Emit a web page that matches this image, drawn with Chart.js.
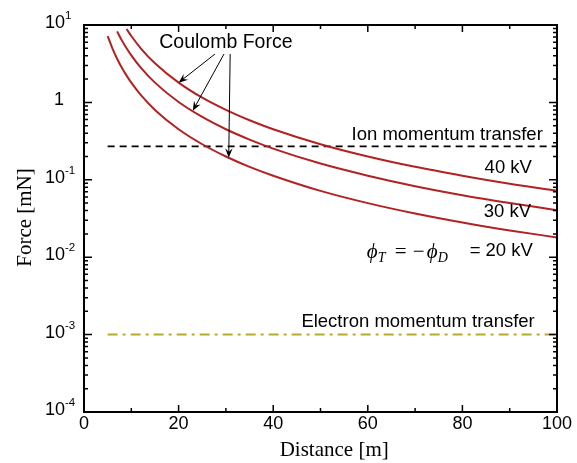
<!DOCTYPE html>
<html>
<head>
<meta charset="utf-8">
<script src="https://cdn.jsdelivr.net/npm/chart.js@4/dist/chart.umd.min.js"></script>
<style>
html,body{margin:0;padding:0;background:#fff;}
#wrap{width:577px;height:463px;position:relative;}
</style>
</head>
<body>
<div id="wrap"><canvas id="c" width="577" height="463"></canvas></div>
<script>
// ---- data ----
const distance20 = [5,6,7,8,9,10,12,15,20,25,30,35,40,50,60,70,80,90,100];
const force20    = [7.2,5.0,3.67,2.81,2.22,1.8,1.25,0.8,0.45,0.288,0.2,0.147,0.113,0.072,0.05,0.0367,0.0281,0.0222,0.018];
const distance30 = [7,8,9,10,12,15,20,25,30,35,40,50,60,70,80,90,100];
const force30    = [8.27,6.33,5.0,4.05,2.81,1.8,1.01,0.648,0.45,0.331,0.253,0.162,0.113,0.0827,0.0633,0.05,0.0405];
const distance40 = [9,10,12,15,20,25,30,35,40,50,60,70,80,90,100];
const force40    = [8.89,7.2,5.0,3.2,1.8,1.15,0.8,0.588,0.45,0.288,0.2,0.147,0.113,0.0889,0.072];
const ionRange   = [5,100];
const ionForce   = 0.27;
const electronRange = [5,100];
const electronForce = 0.001;
const xTickLabels = [0,20,40,60,80,100];
const xMinorTicks = [10,30,50,70,90];
const yTickExponents = [-4,-3,-2,-1,0,1];
const voltageLabels = ['40 kV','30 kV','= 20 kV'];

const toPts = (xs, ys) => xs.map((v,i)=>({x:v,y:ys[i]}));
const red = '#b22222';
const olive = '#b5ac2c';
const sans = "'Liberation Sans', Arial, sans-serif";
const serif = "'Liberation Serif', 'Times New Roman', serif";

const decor = {
  id:'decor',
  afterDraw(chart){
    const {ctx, chartArea:a, scales:{x,y}} = chart;
    ctx.save();
    // ticks
    ctx.strokeStyle='#000';
    ctx.lineWidth=1.5;
    const vt=(px,len)=>{ctx.beginPath();ctx.moveTo(px,a.bottom);ctx.lineTo(px,a.bottom-len);ctx.moveTo(px,a.top);ctx.lineTo(px,a.top+len);ctx.stroke();};
    const ht=(py,len)=>{ctx.beginPath();ctx.moveTo(a.left,py);ctx.lineTo(a.left+len,py);ctx.moveTo(a.right,py);ctx.lineTo(a.right-len,py);ctx.stroke();};
    xTickLabels.forEach(v=>vt(x.getPixelForValue(v),7));
    xMinorTicks.forEach(v=>vt(x.getPixelForValue(v),4));
    yTickExponents.forEach(e=>{
      ht(y.getPixelForValue(Math.pow(10,e)),8);
      if(e<1){for(let m=2;m<=9;m++) ht(y.getPixelForValue(m*Math.pow(10,e)),4);}
    });
    // frame
    ctx.lineWidth=2;
    ctx.strokeRect(a.left,a.top,a.right-a.left,a.bottom-a.top);
    // x tick labels
    ctx.fillStyle='#000';
    ctx.font='18px '+sans;
    ctx.textAlign='center'; ctx.textBaseline='middle';
    xTickLabels.forEach(v=>ctx.fillText(String(v), x.getPixelForValue(v), a.bottom+12));
    // y tick labels
    yTickExponents.forEach(e=>{
      const py=y.getPixelForValue(Math.pow(10,e));
      ctx.textBaseline='middle';
      ctx.font='18px '+sans;
      ctx.textAlign='right';
      if(e===0){ctx.fillText('1',a.left-20,py-2);return;}
      ctx.fillText('10',a.left-19,py-2);
      ctx.font='11.5px '+sans;
      ctx.textAlign='left';
      ctx.fillText(e<0?('-'+(-e)):String(e),a.left-19,py-9);
    });
    // axis titles
    ctx.font='21px '+serif;
    ctx.textAlign='center'; ctx.textBaseline='middle';
    ctx.fillText('Distance [m]', x.getPixelForValue(52.9), 450);
    ctx.save();
    ctx.translate(25,(a.top+a.bottom)/2-1);
    ctx.rotate(-Math.PI/2);
    ctx.fillText('Force [mN]',0,0);
    ctx.restore();

    // annotations
    ctx.font='19.5px '+sans;
    ctx.textAlign='center';
    ctx.fillText('Coulomb Force', x.getPixelForValue(30.0), y.getPixelForValue(6.0));
    ctx.font='18.5px '+sans;
    ctx.textAlign='right';
    ctx.fillText('Ion momentum transfer', x.getPixelForValue(97.0), y.getPixelForValue(0.381));
    ctx.fillText(voltageLabels[0], x.getPixelForValue(94.7), y.getPixelForValue(0.143));
    ctx.fillText(voltageLabels[1], x.getPixelForValue(94.5), y.getPixelForValue(0.0387));
    ctx.fillText(voltageLabels[2], x.getPixelForValue(94.9), y.getPixelForValue(0.0121));
    ctx.fillText('Electron momentum transfer', x.getPixelForValue(95.3), y.getPixelForValue(0.00147));

    // phi expression
    const px0=x.getPixelForValue(59.8), py0=y.getPixelForValue(0.0121);
    ctx.textAlign='left'; ctx.textBaseline='alphabetic';
    const base=py0+7;
    ctx.font='italic 21px '+serif; ctx.fillText('\u03D5',px0,base);
    ctx.font='italic 14px '+serif; ctx.fillText('T',px0+11,base+4);
    ctx.font='21px '+serif; ctx.fillText('=',px0+28,base);
    ctx.fillText('\u2212',px0+46,base);
    ctx.font='italic 21px '+serif; ctx.fillText('\u03D5',px0+60,base);
    ctx.font='italic 14px '+serif; ctx.fillText('D',px0+71,base+4);

    // arrows
    const arrows=[[27.7,4.22,20.0,1.80],[29.6,4.22,23.0,0.78],[30.9,4.22,30.6,0.193]];
    ctx.strokeStyle='#000'; ctx.fillStyle='#000'; ctx.lineWidth=1;
    arrows.forEach(([x1,y1,x2,y2])=>{
      const sx=x.getPixelForValue(x1), sy=y.getPixelForValue(y1);
      const tx=x.getPixelForValue(x2), ty=y.getPixelForValue(y2);
      const ang=Math.atan2(ty-sy,tx-sx);
      ctx.beginPath();ctx.moveTo(sx,sy);ctx.lineTo(tx-Math.cos(ang)*3,ty-Math.sin(ang)*3);ctx.stroke();
      const L=10, w=0.38;
      ctx.beginPath();
      ctx.moveTo(tx,ty);
      ctx.lineTo(tx-L*Math.cos(ang-w),ty-L*Math.sin(ang-w));
      ctx.lineTo(tx-L*0.6*Math.cos(ang),ty-L*0.6*Math.sin(ang));
      ctx.lineTo(tx-L*Math.cos(ang+w),ty-L*Math.sin(ang+w));
      ctx.closePath(); ctx.fill();
    });
    ctx.restore();
  }
};

new Chart(document.getElementById('c'), {
  type:'line',
  data:{datasets:[
    {data:toPts(distance20,force20),borderColor:red,borderWidth:2,pointRadius:0,cubicInterpolationMode:'monotone',fill:false},
    {data:toPts(distance30,force30),borderColor:red,borderWidth:2,pointRadius:0,cubicInterpolationMode:'monotone',fill:false},
    {data:toPts(distance40,force40),borderColor:red,borderWidth:2,pointRadius:0,cubicInterpolationMode:'monotone',fill:false},
    {data:toPts(ionRange,[ionForce,ionForce]),borderColor:'#000',borderWidth:1.6,borderDash:[7,5],pointRadius:0,fill:false},
    {data:toPts(electronRange,[electronForce,electronForce]),borderColor:olive,borderWidth:2,borderDash:[10,5,3,5],pointRadius:0,fill:false}
  ]},
  options:{
    responsive:false, animation:false,
    layout:{padding:{left:84,top:25,right:20,bottom:51}},
    plugins:{legend:{display:false},tooltip:{enabled:false}},
    scales:{
      x:{type:'linear',min:0,max:100,display:false},
      y:{type:'logarithmic',min:1e-4,max:10,display:false}
    }
  },
  plugins:[decor]
});
</script>
</body>
</html>
